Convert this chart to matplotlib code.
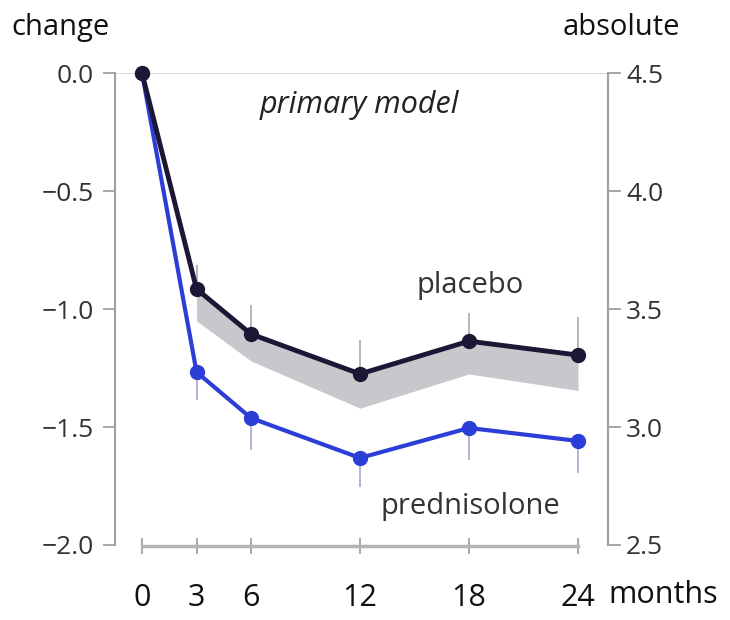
import matplotlib.pyplot as plt

plt.rcParams['font.family'] = ['Open Sans', 'DejaVu Sans']

months = [0, 3, 6, 12, 18, 24]
placebo = [0.0, -0.915, -1.106, -1.275, -1.136, -1.195]
prednisolone = [0.0, -1.267, -1.462, -1.631, -1.504, -1.559]
placebo_err = [0.0, 0.10, 0.123, 0.144, 0.119, 0.161]
prednisolone_err = [0.0, 0.119, 0.136, 0.123, 0.136, 0.136]
band_months = [3, 6, 12, 18, 24]
band_low = [-1.05, -1.22, -1.42, -1.275, -1.345]
band_high = [-0.915, -1.106, -1.275, -1.136, -1.195]

left_ticks = [0.0, -0.5, -1.0, -1.5, -2.0]
left_labels = ['0.0', '\u22120.5', '\u22121.0', '\u22121.5', '\u22122.0']
right_ticks = [4.5, 4.0, 3.5, 3.0, 2.5]
right_labels = ['4.5', '4.0', '3.5', '3.0', '2.5']

tick_col = '#333333'
spine_col = '#a0a0a0'


def main():
    fig = plt.figure(figsize=(7.3, 6.2), dpi=100)
    ax = fig.add_axes([0.1575, 0.121, 0.6753, 0.761])

    ax.set_xlim(-1.49, 25.65)
    ax.set_ylim(-2.0, 0.0)

    ax.axhline(0, color='#d2d2d2', lw=1.2, zorder=0)
    ax.fill_between(band_months, band_low, band_high, color='#c8c7cb', lw=0, zorder=1)

    # one-sided error bars
    ax.errorbar(months, placebo, yerr=[[0] * 6, placebo_err], fmt='none',
                ecolor='#a8a8b0', elinewidth=1.2, capsize=0, zorder=1.5)
    ax.errorbar(months, prednisolone, yerr=[prednisolone_err, [0] * 6], fmt='none',
                ecolor='#a8a8cc', elinewidth=1.2, capsize=0, zorder=1.5)

    ax.plot(months, prednisolone, color='#2b3fd6', lw=3, marker='o', ms=10, zorder=3)
    ax.plot(months, placebo, color='#1d1736', lw=3.5, marker='o', ms=10, zorder=4,
            clip_on=False)

    # spines
    ax.spines['top'].set_visible(False)
    for s in ['left', 'right']:
        ax.spines[s].set_color(spine_col)
        ax.spines[s].set_linewidth(1.5)
    ax.spines['bottom'].set_color('#b4b4b4')
    ax.spines['bottom'].set_linewidth(2.5)
    ax.spines['bottom'].set_position(('outward', 1))
    ax.spines['bottom'].set_bounds(0, 24)

    ax.set_xticks(months)
    ax.set_xticklabels([str(m) for m in months])
    ax.tick_params(axis='x', direction='inout', length=11, width=1.3, color=spine_col,
                   labelsize=22, labelcolor='#111111', pad=21)

    ax.set_yticks(left_ticks)
    ax.set_yticklabels(left_labels)
    ax.tick_params(axis='y', length=9, width=1.3, color=spine_col, labelsize=19,
                   labelcolor=tick_col, pad=6)

    ax2 = ax.twinx()
    ax2.set_ylim(2.5, 4.5)
    ax2.set_yticks(right_ticks)
    ax2.set_yticklabels(right_labels)
    ax2.tick_params(axis='y', length=9, width=1.3, color=spine_col, labelsize=19,
                    labelcolor=tick_col, pad=4)
    for s in ['top', 'left', 'bottom']:
        ax2.spines[s].set_visible(False)
    ax2.spines['right'].set_color(spine_col)
    ax2.spines['right'].set_linewidth(1.5)

    fig.text(0.016, 0.955, 'change', fontsize=21, color='#111111', ha='left', va='center')
    fig.text(0.932, 0.955, 'absolute', fontsize=21, color='#111111', ha='right', va='center')
    ax.text(11.99, -0.136, 'primary model', fontsize=22, style='italic', color='#222222',
            ha='center', va='center')
    ax.text(18.05, -0.898, 'placebo', fontsize=21, color='#333333', ha='center', va='center')
    ax.text(18.05, -1.839, 'prednisolone', fontsize=21, color='#333333', ha='center', va='center')
    fig.text(0.833, 0.040, 'months', fontsize=22, color='#111111', ha='left', va='center')

    plt.savefig('out.png', dpi=100)


if __name__ == '__main__':
    main()
